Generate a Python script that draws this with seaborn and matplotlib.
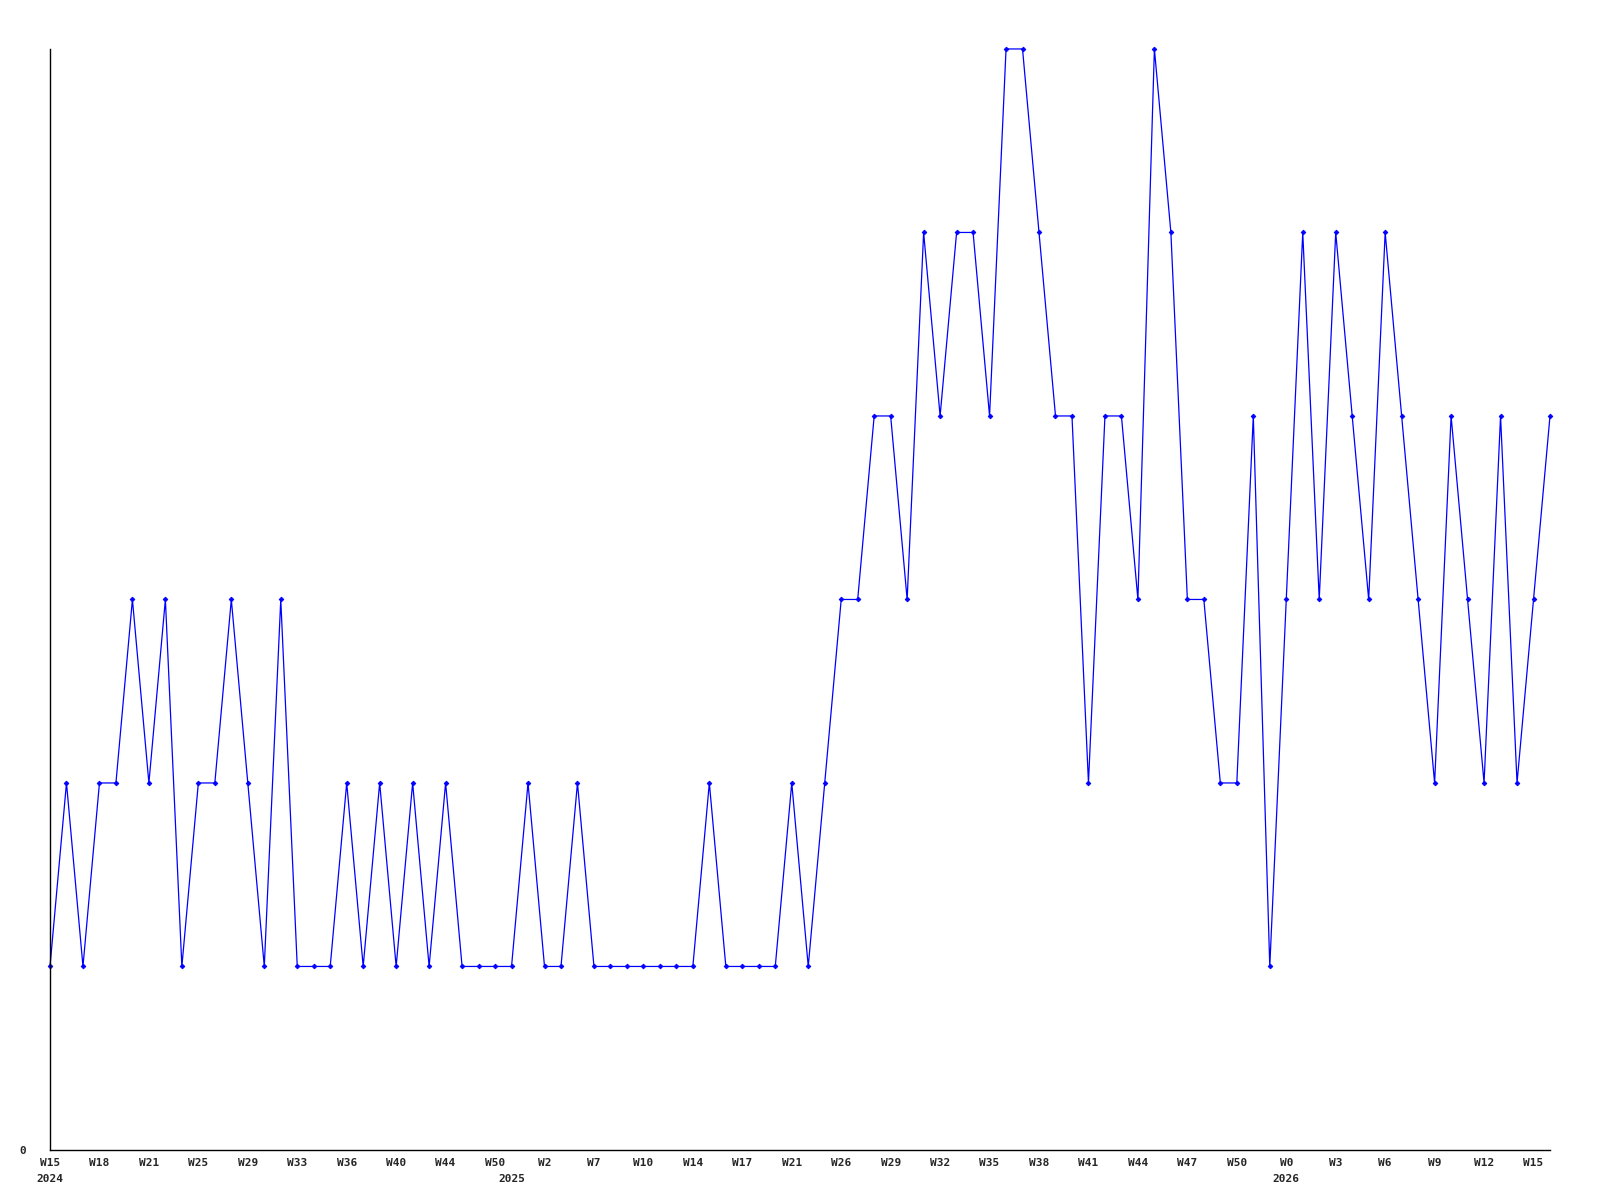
import pandas as pd
import matplotlib
matplotlib.use("Agg")
import matplotlib.pyplot as plt
import seaborn as sns

# weekly counts, one value per data point (not every calendar week has data)
counts = [
    1, 2, 1, 2, 2, 3, 2, 3, 1, 2, 2, 3, 2, 1, 3, 1, 1, 1, 2, 1,
    2, 1, 2, 1, 2, 1, 1, 1, 1, 2, 1, 1, 2, 1, 1, 1, 1, 1, 1, 1,
    2, 1, 1, 1, 1, 2, 1, 2, 3, 3, 4, 4, 3, 5, 4, 5, 5, 4, 6, 6,
    5, 4, 4, 2, 4, 4, 3, 6, 5, 3, 3, 2, 2, 4, 1, 3, 5, 3, 5, 4,
    3, 5, 4, 3, 2, 4, 3, 2, 4, 2, 3, 4,
]

# week labels shown on every third point
week_labels = [
    "W15", "W18", "W21", "W25", "W29", "W33", "W36", "W40", "W44", "W50",
    "W2", "W7", "W10", "W14", "W17", "W21", "W26", "W29", "W32", "W35",
    "W38", "W41", "W44", "W47", "W50", "W0", "W3", "W6", "W9", "W12", "W15",
]
label_step = 3

# year labels and the point where each year starts
years = ["2024", "2025", "2026"]
year_starts = [0, 28, 75]

df = pd.DataFrame({"point": range(len(counts)), "count": counts})

sns.set_style("white")
plt.rcParams["font.family"] = ["DejaVu Sans Mono"]

fig = plt.figure(figsize=(16, 12), dpi=100)
ax = fig.add_axes([0.03125, 0.0417, 0.9375, 0.9175])

sns.lineplot(
    data=df, x="point", y="count", ax=ax,
    color="#0000ff", linewidth=0.9,
    marker="D", markersize=2.4, markeredgewidth=0.6, markeredgecolor="#0000ff",
    clip_on=False,
)

ax.set_xlim(0, len(counts) - 1)
ax.set_ylim(0, 6)

for side in ["top", "right"]:
    ax.spines[side].set_visible(False)
for side in ["left", "bottom"]:
    ax.spines[side].set_color("black")
    ax.spines[side].set_linewidth(1)

# week ticks (major) and year ticks (minor)
ax.xaxis.remove_overlapping_locs = False
ax.set_xticks(range(0, len(week_labels) * label_step, label_step))
ax.set_xticklabels(week_labels, fontsize=8, fontweight="bold")
ax.set_xticks(year_starts, minor=True)
ax.set_xticklabels(years, minor=True, fontsize=8, fontweight="bold")
ax.tick_params(axis="x", which="major", length=0, pad=6)
ax.tick_params(axis="x", which="minor", length=0, pad=17)

ax.set_yticks([0])
ax.set_yticklabels(["0"], fontsize=8, fontweight="bold")
ax.tick_params(axis="y", length=0, pad=17)

ax.set_xlabel("")
ax.set_ylabel("")

plt.savefig("out.png", dpi=100)
